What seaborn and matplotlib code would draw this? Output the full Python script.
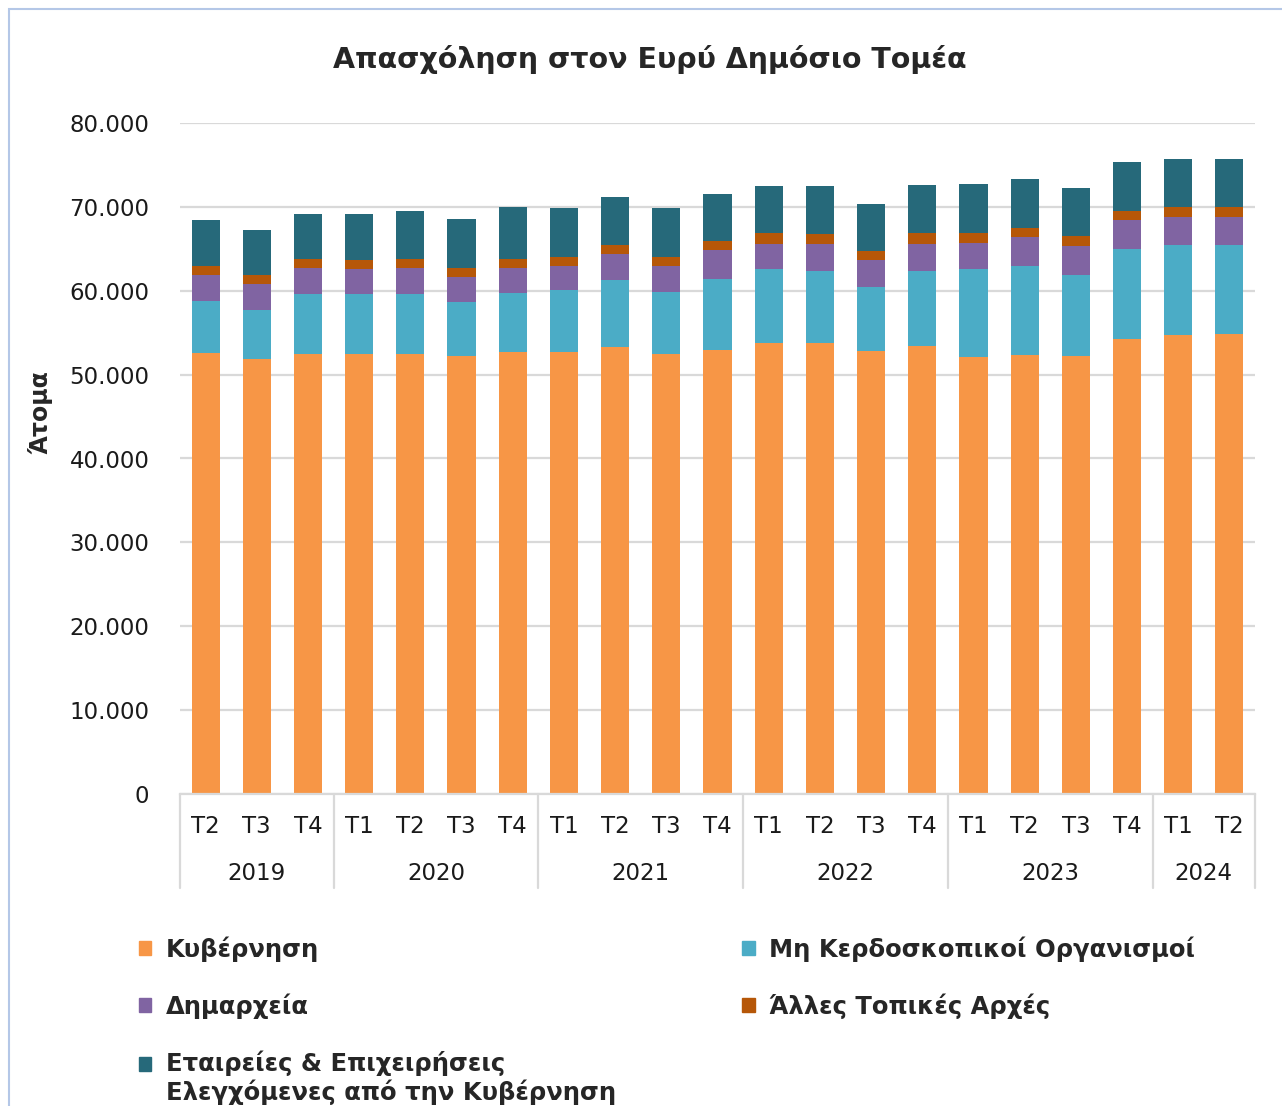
import matplotlib
matplotlib.use("Agg")
import matplotlib.pyplot as plt
import matplotlib.transforms as mtransforms
from matplotlib.patches import Rectangle
from matplotlib.legend_handler import HandlerPatch
import seaborn as sns
import pandas as pd

# data (persons)
years = ["2019", "2020", "2021", "2022", "2023", "2024"]
quarters = ["T2", "T3", "T4",
            "T1", "T2", "T3", "T4",
            "T1", "T2", "T3", "T4",
            "T1", "T2", "T3", "T4",
            "T1", "T2", "T3", "T4",
            "T1", "T2"]
year_of_bar = ["2019"] * 3 + ["2020"] * 4 + ["2021"] * 4 + ["2022"] * 4 + ["2023"] * 4 + ["2024"] * 2

kyvernisi = [52530, 51850, 52480, 52480, 52480, 52200, 52680, 52640, 53280, 52480, 52960,
             53750, 53750, 52800, 53400, 52050, 52320, 52170, 54190, 54670, 54830]
mko = [6270, 5880, 7110, 7110, 7110, 6480, 7070, 7430, 8020, 7390, 8500,
       8790, 8620, 7590, 8970, 10490, 10650, 9730, 10810, 10760, 10600]
dimarxeia = [3100, 3090, 3100, 2950, 3100, 2940, 2940, 2940, 3100, 3140, 3420,
             3090, 3260, 3220, 3220, 3210, 3420, 3420, 3410, 3420, 3420]
alles = [1070, 1080, 1080, 1070, 1080, 1070, 1080, 1030, 1030, 1030, 1070,
         1240, 1080, 1110, 1240, 1080, 1070, 1230, 1080, 1080, 1080]
etaireies = [5410, 5400, 5440, 5600, 5720, 5840, 6160, 5770, 5760, 5770, 5560,
             5560, 5720, 5680, 5720, 5910, 5880, 5720, 5880, 5720, 5720]

series = ["Κυβέρνηση", "Μη Κερδοσκοπικοί Οργανισμοί", "Δημαρχεία",
          "Άλλες Τοπικές Αρχές", "Εταιρείες & Επιχειρήσεις\nΕλεγχόμενες από την Κυβέρνηση"]
colors = ["#F79646", "#4BACC6", "#8064A2", "#B65708", "#26697A"]

df = pd.DataFrame({
    "bar": [y + " " + q for y, q in zip(year_of_bar, quarters)],
    series[0]: kyvernisi,
    series[1]: mko,
    series[2]: dimarxeia,
    series[3]: alles,
    series[4]: etaireies,
})

sns.set_style("white")
plt.rcParams['font.family'] = ['DejaVu Sans']

fig = plt.figure(figsize=(12.82, 11.06), dpi=100)
ax = fig.add_axes([180 / 1282, 1 - 794 / 1106, 1075 / 1282, 671 / 1106])

bottom = [0] * len(df)
handles = []
for name, col in zip(series, colors):
    sns.barplot(data=df, x="bar", y=name, bottom=bottom, color=col, width=0.55,
                saturation=1, linewidth=0, ax=ax, label=name)
    bottom = [b + v for b, v in zip(bottom, df[name])]
    handles.append(Rectangle((0, 0), 1, 1, color=col))

ax.set_xlim(-0.5, len(df) - 0.5)
ax.set_ylim(0, 80000)
ax.set_yticks(range(0, 80001, 10000))
ax.set_yticklabels([f"{v:,}".replace(",", ".") for v in range(0, 80001, 10000)])
ax.yaxis.grid(True, color="#D9D9D9", linewidth=1.6)
ax.set_axisbelow(True)
for s in ["left", "right", "top"]:
    ax.spines[s].set_visible(False)
ax.spines["bottom"].set_color("#D9D9D9")
ax.spines["bottom"].set_linewidth(1.6)
ax.set_xlabel("")
ax.set_ylabel("")
ax.set_xticks(range(len(df)))
ax.set_xticklabels(quarters)
ax.tick_params(axis="x", length=0, pad=15, labelsize=16.5, colors="#1a1a1a")
ax.tick_params(axis="y", length=0, pad=22, labelsize=16.5, colors="#1a1a1a")

# year group labels and separators
trans = mtransforms.blended_transform_factory(ax.transData, ax.transAxes)
bounds = [-0.5]
pos = 0
for y in years:
    n = year_of_bar.count(y)
    ax.text(pos + (n - 1) / 2, -0.119, y, transform=trans, ha="center", va="center",
            fontsize=16.5, color="#1a1a1a")
    pos += n
    bounds.append(pos - 0.5)
for b in bounds:
    ax.plot([b, b], [0, -0.140], transform=trans, color="#D9D9D9", linewidth=1.6, clip_on=False)

fig.text(650 / 1282, 1 - 60 / 1106, "Απασχόληση στον Ευρύ Δημόσιο Τομέα",
         ha="center", va="center", fontsize=20.5, fontweight="bold")
fig.text(40 / 1282, 1 - 412 / 1106, "Άτομα", rotation=90, ha="center", va="center",
         fontsize=17, fontweight="bold")

if ax.get_legend():
    ax.get_legend().remove()


# marker of the two-line entry sits on its first line
def top_square(legend, orig_handle, xdescent, ydescent, width, height, fontsize):
    return Rectangle((-xdescent, -ydescent + 10.5), width, height)


order = [0, 2, 4, 1, 3]
fig.legend([handles[i] for i in order], [series[i] for i in order], ncol=2,
           loc="upper left", bbox_to_anchor=(127 / 1282, 1 - 924 / 1106),
           frameon=False, prop={"weight": "bold", "size": 17.5}, borderpad=0,
           handlelength=0.5, handleheight=0.5, handletextpad=0.6,
           labelspacing=1.3, columnspacing=5.2,
           handler_map={handles[4]: HandlerPatch(patch_func=top_square)})

fig.patches.append(Rectangle((9 / 1282, -0.01), 1.2, 1 - 9 / 1106 + 0.01,
                             transform=fig.transFigure, fill=False,
                             edgecolor="#B4C7E7", linewidth=1.5))

fig.savefig("out.png", dpi=100)
